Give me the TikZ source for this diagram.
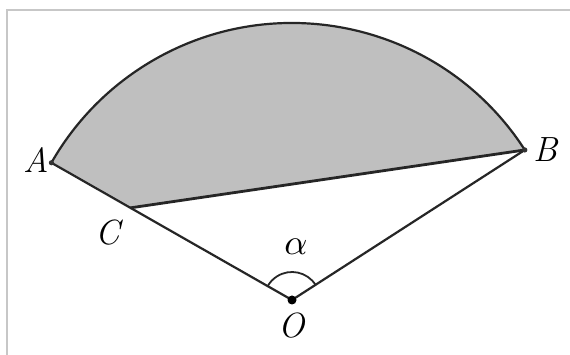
\documentclass[tikz,border=0pt]{standalone}
\usepackage{fontspec}
\usepackage{graphicx}
\usetikzlibrary{calc}
\begin{document}
\begin{tikzpicture}[x=1pt,y=1pt,
  lbl/.style={font=\fontsize{35}{37}\selectfont\itshape, inner sep=0pt},
  edge/.style={draw=black!85, line width=2.2pt, line join=round}]
\useasboundingbox (0,0) rectangle (570,355);
\fill[white] (0,0) rectangle (570,355);
% frame
\draw[black!22, line width=2pt] (7,0) -- (7,345) -- (570,345);
% points
\coordinate (O) at (292,55);
\coordinate (A) at ($(O)+(150.3:277)$);
\coordinate (B) at ($(O)+(32.8:277)$);
\coordinate (C) at ($(O)+(150.3:186)$);
% shaded segment region
\fill[black!25] (B) arc[start angle=32.8, end angle=150.3, radius=277] -- (C) -- cycle;
% outline
\draw[edge] (B) arc[start angle=32.8, end angle=150.3, radius=277];
\draw[edge] (A) -- (O) -- (B);
\draw[edge, line width=2.8pt] (C) -- (B);
% angle mark
\draw[edge, line width=1.8pt] ($(O)+(32.8:28)$) arc[start angle=32.8, end angle=150.3, radius=28];
\fill[black] (O) circle (4.5);
\fill[black!80] (A) circle (2.6);
\fill[black!80] (B) circle (2.6);
% labels
\node[lbl] (lA) at (36,195) {A};
\node[lbl] (lB) at (546,205) {B};
\node[lbl] (lC) at (108,122) {C};
\node[lbl] (lO) at (292,29) {O};
\node[inner sep=0pt] (la) at (296,108) {\scalebox{3.6}{$\alpha$}};
\end{tikzpicture}
\end{document}
